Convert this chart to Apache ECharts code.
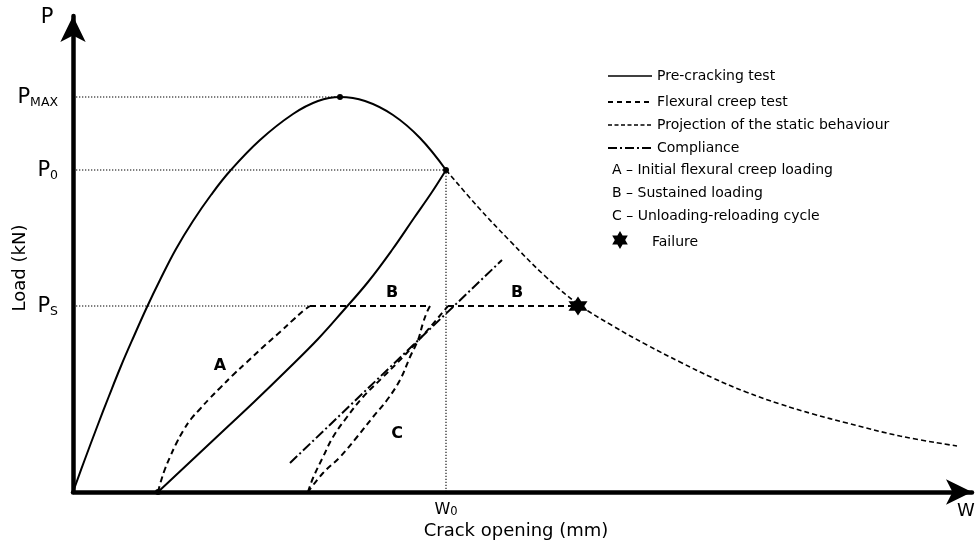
<!DOCTYPE html>
<html><head><meta charset="utf-8">
<script src="https://cdn.jsdelivr.net/npm/echarts@6/dist/echarts.min.js"></script>
<style>html,body{margin:0;padding:0;background:#fff}#c{width:976px;height:541px}</style>
</head><body><div id="c"></div>
<script>
// Schematic values (arbitrary units)
const preCracking = [[0,0],[12,33],[24,65],[36,96],[48,126],[61,156],[74,185],[87,212],[103,243],[120,271],[138,297],[157,321],[187,352],[220,378],[245,391],[267,395],[292,391],[320,377],[347,354],[373,322]];
const unloading = [[85,0],[117,30],[149,60],[181,90],[213,121],[245,153],[270,181],[295,210],[319,242],[341,274],[359,300],[373,322]];
const projection = [[373,322],[405,285],[437,251],[472,216],[505,188],[540,166],[574,147],[607,130],[640,114],[673,100],[707,88],[740,78],[774,69],[827,56],[884,46]];
const creepA = [[85,0],[88,11],[92,23],[97,35],[103,48],[110,61],[118,73],[127,83],[137,94],[147,104],[160,117],[174,130],[189,144],[207,160],[220,172],[230,181],[237,186]];
const creepB1 = [[237,186],[357,186]];
const cycleUnload = [[357,186],[354,180],[350,169],[345,152],[337,135],[327,112],[314,92],[300,75],[284,55],[267,35],[250,19],[235,0]];
const cycleReload = [[235,0],[240,14],[250,35],[260,55],[274,75],[290,95],[310,115],[330,135],[352,159],[375,186]];
const creepB2 = [[375,186],[505,186]];
const compliance = [[217,29],[429,232]];
const failure = [[505,186]];
const keyPoints = [[267,395],[373,322],[85,0]];
const guidePmax = [[0,395],[267,395]];
const guideP0 = [[0,322],[373,322]];
const guidePs = [[0,186],[236,186]];
const guideW0 = [[373,0],[373,322]];
const yTickValues = [186,322,395];
const yTickText = {186:['P','S'],322:['P','0'],395:['P','MAX']};
const xTickValues = [373];
const xTickText = {373:['W','0']};
const annotations = [[147,126,'A'],[319,199,'B'],[444,199,'B'],[324,58,'C']];
const legendLines = ['Pre-cracking test','Flexural creep test','Projection of the static behaviour','Compliance'];
const legendNotes = ['A – Initial flexural creep loading','B – Sustained loading','C – Unloading-reloading cycle'];
const failureText = 'Failure';

const FONT = 'DejaVu Sans';
const STAR = 'path://M0,-10 L2.89,-5 L8.66,-5 L5.77,0 L8.66,5 L2.89,5 L0,10 L-2.89,5 L-8.66,5 L-5.77,0 L-8.66,-5 L-2.89,-5 Z';
function starPoints(cx, cy, r) {
  const pts = [];
  for (let i = 0; i < 12; i++) {
    const a = -Math.PI/2 + i*Math.PI/6;
    const rr = i % 2 === 0 ? r : r/Math.sqrt(3);
    pts.push([cx + rr*Math.cos(a), cy + rr*Math.sin(a)]);
  }
  return pts;
}

function lineS(data, width, dash, smooth, z) {
  return {type:'line', data:data, showSymbol:false, symbol:'none', smooth:smooth||false, z:z||3,
    lineStyle:{color:'#000', width:width, type:dash||'solid', opacity:1}, silent:true};
}
const dotted = [1.3,1.7];
const series = [
  lineS(guidePmax,1.1,dotted,false,1),
  lineS(guideP0,1.1,dotted,false,1),
  lineS(guidePs,1.1,dotted,false,1),
  lineS(guideW0,1.1,dotted,false,1),
  lineS(preCracking,2,'solid',0.4),
  lineS(unloading,2,'solid',0.4),
  lineS(projection,1.6,[5,3],0.4),
  lineS(creepA,2,[6,4],0.4),
  lineS(creepB1,2,[6,4]),
  lineS(cycleUnload,2,[6,4],0.4),
  lineS(cycleReload,2,[6,4],0.4),
  lineS(creepB2,2,[6,4]),
  lineS(compliance,2,[10,3,2,3]),
  {type:'scatter', data:keyPoints, symbol:'circle', symbolSize:6, itemStyle:{color:'#000', opacity:1}, z:5, silent:true},
  {type:'scatter', data:failure, symbol:STAR, symbolSize:19, itemStyle:{color:'#000', opacity:1}, z:6, silent:true},
  {type:'scatter', data:annotations.map(a=>[a[0],a[1],a[2]]), symbolSize:0, z:6, silent:true,
    itemStyle:{opacity:1},
    label:{show:true, position:'inside', formatter:p=>p.value[2], fontFamily:FONT, fontWeight:'bold', fontSize:16, color:'#000', opacity:1}}
];

const rich = {
  p:{fontFamily:FONT, fontSize:21, color:'#000', verticalAlign:'bottom', lineHeight:22},
  s:{fontFamily:FONT, fontSize:12.5, color:'#000', verticalAlign:'bottom', lineHeight:22, padding:[0,0,-1,0]},
  w:{fontFamily:FONT, fontSize:16, color:'#000', verticalAlign:'bottom', lineHeight:17},
  ws:{fontFamily:FONT, fontSize:11.5, color:'#000', verticalAlign:'bottom', lineHeight:17}
};

function txt(x, y, t, size, align, extra) {
  const g = {type:'text', x:x, y:y, style:{text:t, fontFamily:FONT, fontSize:size, fill:'#000', verticalAlign:'middle', align:align||'left'}};
  return Object.assign(g, extra||{});
}
const graphic = [];
const ly = [76,102,125,148];
const ldash = [null,[5,4],[4,2.5],[9,3,2,3]];
const lwid = [1.6,2,1.6,2];
legendLines.forEach((t,i)=>{
  const st = {stroke:'#000', lineWidth:lwid[i]};
  if (ldash[i]) st.lineDash = ldash[i];
  graphic.push({type:'line', shape:{x1:608,y1:ly[i],x2:652,y2:ly[i]}, style:st});
  graphic.push(txt(657, ly[i], t, 14));
});
const ny = [170,193,216];
legendNotes.forEach((t,i)=>{ graphic.push(txt(612, ny[i], t, 14)); });
graphic.push({type:'polygon', shape:{points:starPoints(620,240,9)}, style:{fill:'#000'}});
graphic.push(txt(652, 242, failureText, 14));
graphic.push(txt(47, 18, 'P', 21, 'center'));
graphic.push(txt(966, 511, 'W', 18, 'center'));
graphic.push(txt(20, 268, 'Load (kN)', 18, 'center', {rotation:Math.PI/2}));
graphic.push(txt(516, 531, 'Crack opening (mm)', 18, 'center'));

const option = {
  animation:false,
  backgroundColor:'#fff',
  grid:{left:73, top:16, width:899, height:476, containLabel:false},
  xAxis:{type:'value', min:0, max:899, splitLine:{show:false}, axisTick:{show:false},
    axisLine:{lineStyle:{color:'#000', width:4.5}, symbol:['none','arrow'], symbolSize:[19,26]},
    axisLabel:{customValues:xTickValues, margin:9, rich:rich,
      formatter:v=>{const t=xTickText[v]; return t?('{w|'+t[0]+'}{ws|'+t[1]+'}'):'';}}},
  yAxis:{type:'value', min:0, max:476, splitLine:{show:false}, axisTick:{show:false},
    axisLine:{lineStyle:{color:'#000', width:4.5}, symbol:['none','arrow'], symbolSize:[19,26]},
    axisLabel:{customValues:yTickValues, margin:15, rich:rich,
      formatter:v=>{const t=yTickText[v]; return t?('{p|'+t[0]+'}{s|'+t[1]+'}'):'';}}},
  graphic:graphic,
  series:series
};
const chart = echarts.init(document.getElementById('c'), null, {renderer:'canvas'});
chart.setOption(option);
</script></body></html>
